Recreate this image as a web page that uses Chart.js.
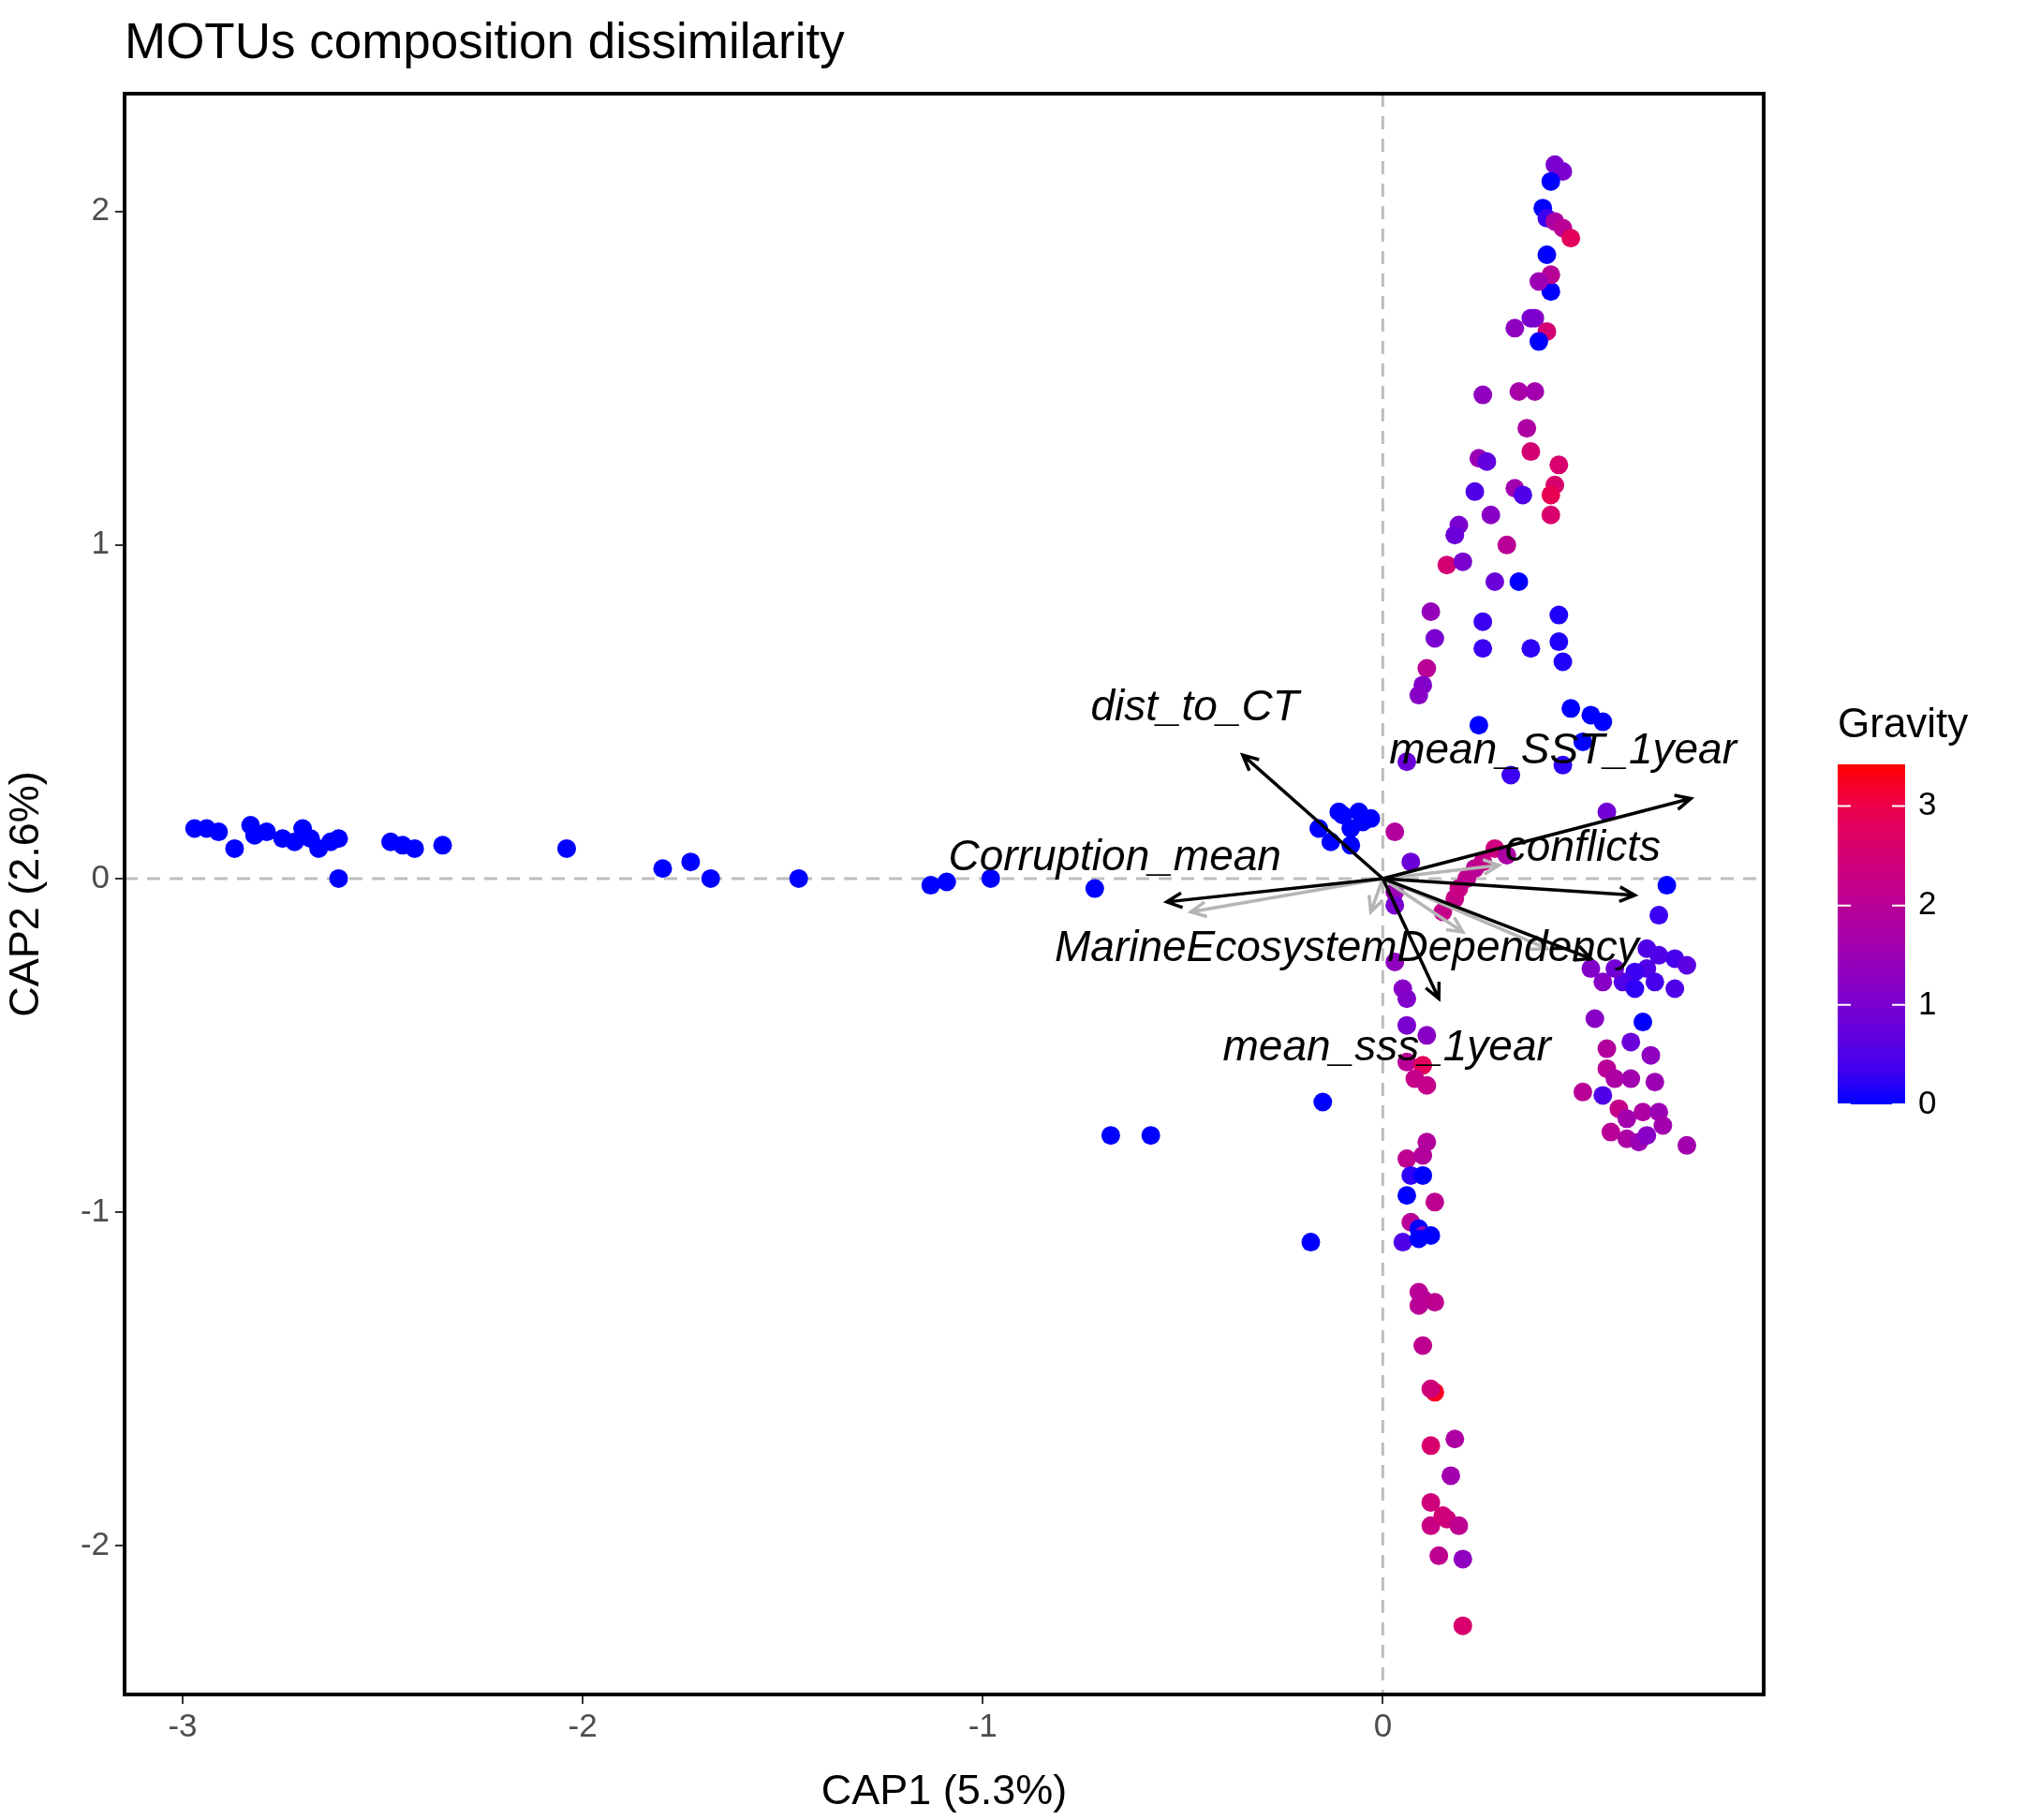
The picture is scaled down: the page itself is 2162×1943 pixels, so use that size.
<!DOCTYPE html>
<html>
<head>
<meta charset="utf-8">
<script src="https://cdn.jsdelivr.net/npm/chart.js@4/dist/chart.umd.min.js"></script>
<style>
  body { margin: 0; background: #fff; }
</style>
</head>
<body>
<canvas id="cap" width="2162" height="1943"></canvas>
<script>
// sample scores: CAP1, CAP2, Gravity
const cap1 = [-2.97,-2.94,-2.91,-2.87,-2.83,-2.82,-2.79,-2.75,-2.72,-2.70,-2.68,-2.66,-2.63,-2.61,-2.61,-2.48,-2.45,-2.42,-2.35,-2.04,-1.80,-1.73,-1.68,-1.46,-1.13,-1.09,-0.98,-0.72,-0.68,-0.58,-0.15,-0.18,
  -0.16,-0.13,-0.10,-0.08,-0.06,-0.05,-0.03,-0.11,-0.08,
  0.43,0.45,0.42,0.40,0.41,0.43,0.45,0.47,0.41,0.42,0.42,0.39,0.38,0.41,0.39,0.33,0.37,0.25,0.34,0.38,0.36,0.37,0.44,0.24,0.26,0.33,0.35,0.43,0.42,0.42,0.23,0.27,0.19,0.18,0.31,0.16,0.20,0.28,0.34,0.25,0.25,0.37,0.44,0.44,0.45,0.12,0.13,0.11,0.10,0.09,0.47,0.52,0.55,0.24,0.50,0.45,0.06,0.32,0.56,0.03,0.07,
  0.15,0.18,0.19,0.21,0.23,0.25,0.28,0.31,0.03,0.03,
  0.71,0.69,0.66,0.69,0.73,0.76,0.66,0.63,0.68,0.73,0.60,0.63,0.55,0.52,0.58,0.65,0.53,0.62,0.56,0.67,0.56,0.58,0.62,0.68,0.50,0.55,0.59,0.61,0.65,0.69,0.57,0.61,0.64,0.66,0.76,0.70,
  0.03,0.05,0.06,0.06,0.11,0.06,0.10,0.08,0.11,0.06,0.10,0.11,0.07,0.10,0.06,0.13,0.07,0.09,0.10,0.05,0.09,0.12,0.09,0.10,0.13,0.09,0.10,0.13,0.12,0.18,0.12,0.17,0.12,0.12,0.15,0.16,0.19,0.20,0.14,0.20];
const cap2 = [0.15,0.15,0.14,0.09,0.16,0.13,0.14,0.12,0.11,0.15,0.12,0.09,0.11,0.12,0.00,0.11,0.10,0.09,0.10,0.09,0.03,0.05,0.00,0.00,-0.02,-0.01,0.00,-0.03,-0.77,-0.77,-0.67,-1.09,
  0.15,0.11,0.19,0.15,0.20,0.17,0.18,0.20,0.10,
  2.14,2.12,2.09,2.01,1.98,1.97,1.95,1.92,1.87,1.76,1.81,1.79,1.68,1.64,1.61,1.65,1.68,1.45,1.46,1.46,1.35,1.28,1.24,1.26,1.25,1.17,1.15,1.18,1.15,1.09,1.16,1.09,1.06,1.03,1.00,0.94,0.95,0.89,0.89,0.77,0.69,0.69,0.79,0.71,0.65,0.80,0.72,0.63,0.58,0.55,0.51,0.49,0.47,0.46,0.41,0.34,0.35,0.31,0.20,0.14,0.05,
  -0.10,-0.06,-0.03,0.00,0.03,0.05,0.09,0.07,-0.04,-0.08,
  -0.02,-0.11,-0.21,-0.23,-0.24,-0.26,-0.27,-0.28,-0.31,-0.33,-0.31,-0.33,-0.31,-0.27,-0.27,-0.43,-0.42,-0.49,-0.51,-0.53,-0.57,-0.60,-0.60,-0.61,-0.64,-0.65,-0.69,-0.72,-0.70,-0.70,-0.76,-0.78,-0.79,-0.77,-0.80,-0.74,
  -0.25,-0.33,-0.36,-0.44,-0.47,-0.55,-0.56,-0.60,-0.62,-0.84,-0.83,-0.79,-0.89,-0.89,-0.95,-0.97,-1.03,-1.05,-1.07,-1.09,-1.08,-1.07,-1.24,-1.26,-1.27,-1.28,-1.40,-1.54,-1.53,-1.68,-1.70,-1.79,-1.87,-1.94,-1.91,-1.92,-1.94,-2.04,-2.03,-2.24];
const gravity = [0,0,0,0,0,0,0,0,0,0,0,0,0,0,0,0,0,0,0,0,0,0,0,0,0,0,0,0,0,0,0,0,
  0,0,0,0,0,0,0,0,0,
  1,1,0,0,0.3,1.8,2,2.8,0,0,2,1.5,1.2,2.5,0,1.3,1,1.3,1.7,1.6,1.8,2.5,2.6,1.5,0.7,1.6,0.5,2.6,2.9,2.6,0.5,1.2,1,0.8,2,2.5,1,0.8,0,0.3,0.3,0.2,0.1,0.1,0.1,1.4,1,2,1.1,1.2,0,0,0,0,0,0.2,0.8,0.3,0.9,1.9,0.8,
  2.2,2.2,2.3,2.1,2,2.2,2.4,1.8,1.5,1,
  0,0.3,0.5,0.5,0.4,0.6,0.5,0.3,0.4,0.5,0.5,0.2,1.2,1.1,0.9,0,1.2,0.8,1.9,1.3,2,1.8,1.6,1.5,2,0.5,2.2,1.6,1.8,1.5,2,1.8,1.5,1.2,1.6,1.6,
  1.3,1.2,1.1,1,1.2,2,2.8,2.2,2.2,2.1,1.9,1.9,0.2,0,0,2.1,2,0,1.5,0.5,0,0,2,2,2.1,2,2.1,3.3,2.4,1.8,2.6,1.6,2.4,2.3,2.5,2.4,2.1,1.3,2.1,2.6];

// fitted environmental vectors (black, labelled)
const vecNames = ['dist_to_CT','mean_SST_1year','conflicts','Corruption_mean','MarineEcosystemDependency','mean_sss_1year'];
const vecX = [-0.35,0.77,0.63,-0.54,0.52,0.14];
const vecY = [0.37,0.24,-0.05,-0.07,-0.24,-0.36];
const labX = [-0.47,0.45,0.50,-0.67,-0.09,0.01];
const labY = [0.51,0.38,0.09,0.06,-0.21,-0.51];
// minor vectors (grey)
const greyX = [-0.48,-0.03,0.41,0.29,0.20];
const greyY = [-0.10,-0.10,-0.21,0.04,-0.16];

const xTicks = [-3,-2,-1,0];
const yTicks = [-2,-1,0,1,2];
const gravMax = 3.42;
const gravTicks = [0,1,2,3];

function gravColor(g) {
  const t = Math.max(0, Math.min(1, g / gravMax));
  const r = Math.round(255 * Math.pow(t, 0.6));
  const b = Math.round(255 * Math.pow(1 - t, 0.6));
  return `rgb(${r},0,${b})`;
}

function arrow(ctx, x0, y0, x1, y1, color, w) {
  const a = Math.atan2(y1 - y0, x1 - x0), h = 18;
  ctx.strokeStyle = color; ctx.lineWidth = w;
  ctx.beginPath(); ctx.moveTo(x0, y0); ctx.lineTo(x1, y1);
  ctx.moveTo(x1 - h * Math.cos(a - 0.45), y1 - h * Math.sin(a - 0.45));
  ctx.lineTo(x1, y1);
  ctx.lineTo(x1 - h * Math.cos(a + 0.45), y1 - h * Math.sin(a + 0.45));
  ctx.stroke();
}

const decor = {
  id: 'decor',
  beforeDatasetsDraw(chart) {
    const { ctx, chartArea: a, scales: { x, y } } = chart;
    ctx.save();
    ctx.setLineDash([14, 10]);
    ctx.strokeStyle = '#bdbdbd'; ctx.lineWidth = 3;
    ctx.beginPath();
    ctx.moveTo(x.getPixelForValue(0), a.top); ctx.lineTo(x.getPixelForValue(0), a.bottom);
    ctx.moveTo(a.left, y.getPixelForValue(0)); ctx.lineTo(a.right, y.getPixelForValue(0));
    ctx.stroke();
    ctx.restore();
  },
  afterDatasetsDraw(chart) {
    const { ctx, chartArea: a, scales: { x, y } } = chart;
    const ox = x.getPixelForValue(0), oy = y.getPixelForValue(0);
    ctx.save();
    greyX.forEach((v, i) => arrow(ctx, ox, oy, x.getPixelForValue(v), y.getPixelForValue(greyY[i]), '#b5b5b5', 3.5));
    vecX.forEach((v, i) => arrow(ctx, ox, oy, x.getPixelForValue(v), y.getPixelForValue(vecY[i]), '#000', 3.5));
    ctx.fillStyle = '#000';
    ctx.font = 'italic 46px "Liberation Sans", Arial, sans-serif';
    ctx.textAlign = 'center'; ctx.textBaseline = 'middle';
    vecNames.forEach((n, i) => ctx.fillText(n, x.getPixelForValue(labX[i]), y.getPixelForValue(labY[i])));
    // panel border
    ctx.strokeStyle = '#000'; ctx.lineWidth = 4;
    ctx.strokeRect(a.left, a.top, a.right - a.left, a.bottom - a.top);
    // title
    ctx.font = '53px "Liberation Sans", Arial, sans-serif';
    ctx.textAlign = 'left'; ctx.textBaseline = 'alphabetic';
    ctx.fillText('MOTUs composition dissimilarity', a.left, 62);
    // colour bar legend
    const bx = 1962, bw = 72, bt = 816, bb = 1179;
    ctx.font = '44px "Liberation Sans", Arial, sans-serif';
    ctx.fillText('Gravity', bx, 787);
    const grad = ctx.createLinearGradient(0, bb, 0, bt);
    for (let s = 0; s <= 10; s++) grad.addColorStop(s / 10, gravColor(gravMax * s / 10));
    ctx.fillStyle = grad;
    ctx.fillRect(bx, bt, bw, bb - bt);
    ctx.font = '35px "Liberation Sans", Arial, sans-serif';
    ctx.textBaseline = 'middle';
    gravTicks.forEach(g => {
      const py = bb - (bb - bt) * g / gravMax;
      ctx.strokeStyle = '#fff'; ctx.lineWidth = 2;
      ctx.beginPath();
      ctx.moveTo(bx, py); ctx.lineTo(bx + 14, py);
      ctx.moveTo(bx + bw - 14, py); ctx.lineTo(bx + bw, py);
      ctx.stroke();
      ctx.fillStyle = '#000';
      ctx.fillText(String(g), bx + bw + 14, py);
    });
    ctx.restore();
  }
};

const tickFont = { family: '"Liberation Sans", Arial, sans-serif', size: 35 };
const titleFont = { family: '"Liberation Sans", Arial, sans-serif', size: 45 };

new Chart(document.getElementById('cap'), {
  type: 'scatter',
  data: {
    datasets: [{
      data: cap1.map((v, i) => ({ x: v, y: cap2[i] })),
      backgroundColor: gravity.map(gravColor),
      borderWidth: 0,
      pointRadius: 10,
      pointHoverRadius: 10
    }]
  },
  options: {
    responsive: false,
    animation: false,
    layout: { padding: { left: 0, right: 279, top: 100, bottom: 0 } },
    plugins: { legend: { display: false }, tooltip: { enabled: false } },
    scales: {
      x: {
        min: -3.145, max: 0.952,
        afterBuildTicks: s => { s.ticks = xTicks.map(v => ({ value: v })); },
        afterFit: s => { s.height = 134; },
        grid: { drawOnChartArea: false, tickLength: 10, color: '#333', lineWidth: 2 },
        border: { display: false },
        ticks: { font: tickFont, color: '#4d4d4d', padding: 4 },
        title: { display: true, text: 'CAP1 (5.3%)', font: titleFont, color: '#000', padding: 2 }
      },
      y: {
        min: -2.446, max: 2.353,
        afterBuildTicks: s => { s.ticks = yTicks.map(v => ({ value: v })); },
        afterFit: s => { s.width = 133; },
        grid: { drawOnChartArea: false, tickLength: 10, color: '#333', lineWidth: 2 },
        border: { display: false },
        ticks: { font: tickFont, color: '#4d4d4d', padding: 6 },
        title: { display: true, text: 'CAP2 (2.6%)', font: titleFont, color: '#000', padding: 2 }
      }
    }
  },
  plugins: [decor]
});
</script>
</body>
</html>
